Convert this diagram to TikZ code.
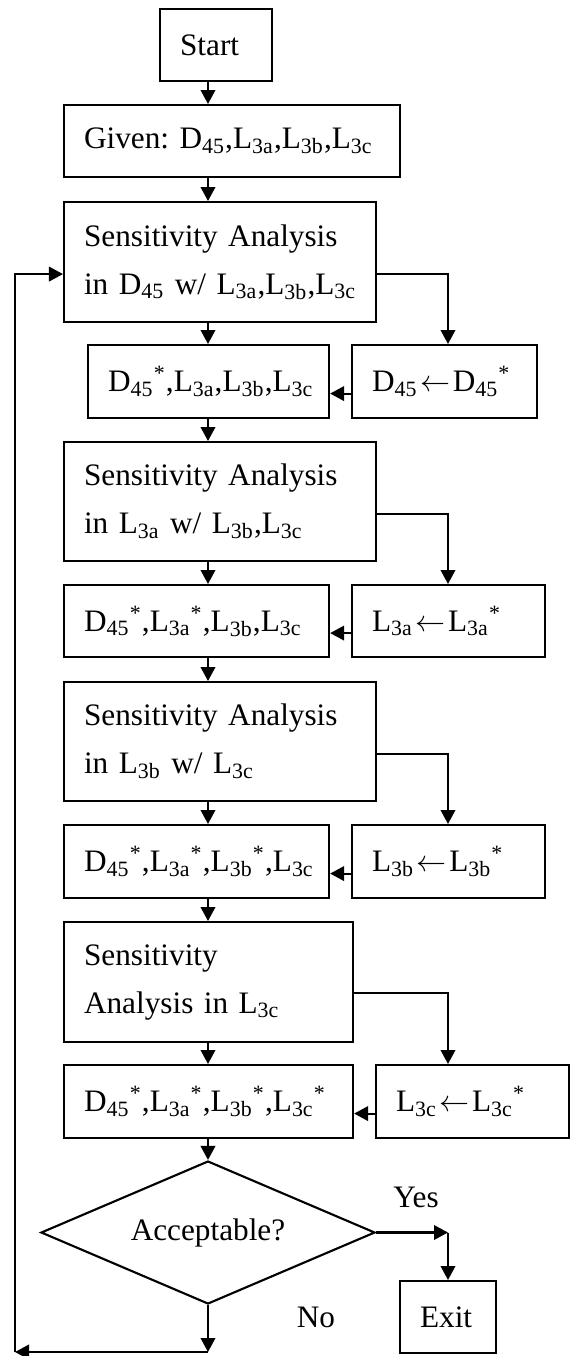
\documentclass[tikz,border=0pt]{standalone}
\usepackage{fontspec}
\setmainfont{Liberation Serif}
\frenchspacing
\usetikzlibrary{arrows.meta, shapes.geometric}
\tikzset{
    blk/.style={draw, rectangle, anchor=north west, align=left, inner xsep=8pt, inner ysep=0pt},
    txt/.style={inner sep=0pt},
}
\newcommand{\Dvar}{D\textsubscript{45}}
\newcommand{\Lvara}{L\textsubscript{3a}}
\newcommand{\Lvarb}{L\textsubscript{3b}}
\newcommand{\Lvarc}{L\textsubscript{3c}}
\newcommand{\opt}{\textsuperscript{*}}
\newcommand{\larr}{\kern1pt$\leftarrow$\kern1pt}
\begin{document}
\begin{tikzpicture}[x=0.4pt, y=-0.4pt, line width=0.85pt, >={Triangle[length=5.6pt,width=5.8pt]}, font=\fontsize{12.5}{19.2}\selectfont]
    \useasboundingbox (0, 0) rectangle (574, 1356) ;
    \node[blk, text width=28.8pt, minimum height=28.8pt] (start) at (159, 8) {Start} ;
    \node[blk, text width=118.4pt, minimum height=28.8pt] (given) at (63, 104) {Given:~\Dvar,\Lvara,\Lvarb,\Lvarc} ;
    \node[blk, text width=108.8pt, minimum height=48pt] (sens1) at (63, 201) {Sensitivity~Analysis\\in~\Dvar{}~w/~\Lvara,\Lvarb,\Lvarc} ;
    \node[blk, text width=80.4pt, minimum height=29.2pt] (res1) at (87, 344) {\Dvar\opt,\Lvara,\Lvarb,\Lvarc} ;
    \node[blk, text width=58pt, minimum height=29.2pt] (upd1) at (351, 344) {\Dvar\larr\Dvar\opt} ;
    \node[blk, text width=108.8pt, minimum height=47.6pt] (sens2) at (63, 441) {Sensitivity~Analysis\\in~\Lvara{}~w/~\Lvarb,\Lvarc} ;
    \node[blk, text width=90pt, minimum height=28.8pt] (res2) at (63, 584) {\Dvar\opt,\Lvara\opt,\Lvarb,\Lvarc} ;
    \node[blk, text width=61.2pt, minimum height=28.8pt] (upd2) at (351, 584) {\Lvara\larr\Lvara\opt} ;
    \node[blk, text width=108.8pt, minimum height=47.6pt] (sens3) at (63, 681) {Sensitivity~Analysis\\in~\Lvarb{}~w/~\Lvarc} ;
    \node[blk, text width=90pt, minimum height=29.2pt] (res3) at (63, 824) {\Dvar\opt,\Lvara\opt,\Lvarb\opt,\Lvarc} ;
    \node[blk, text width=61.2pt, minimum height=29.2pt] (upd3) at (351, 824) {\Lvarb\larr\Lvarb\opt} ;
    \node[blk, text width=99.6pt, minimum height=48pt] (sens4) at (63, 921) {Sensitivity\\Analysis~in~\Lvarc} ;
    \node[blk, text width=99.6pt, minimum height=29.2pt] (res4) at (63, 1064) {\Dvar\opt,\Lvara\opt,\Lvarb\opt,\Lvarc\opt} ;
    \node[blk, text width=61.2pt, minimum height=29.2pt] (upd4) at (375, 1064) {\Lvarc\larr\Lvarc\opt} ;
    \node[draw, diamond, aspect=2.34, minimum width=133.6pt, minimum height=57.2pt, inner sep=0pt] (check) at (208, 1232.5) {Acceptable?} ;
    \node[blk, text width=22.4pt, minimum height=28.8pt] (exit) at (399, 1280) {Exit} ;
    \node[txt] (yes) at (416, 1197) {Yes} ;
    \node[txt] (no) at (316, 1317) {No} ;
    \coordinate (col) at (208, 0) ;
    \coordinate (side) at (448, 0) ;
    \coordinate (back) at (208, 1352) ;
    \coordinate (backl) at (15, 1352) ;
    % main column
    \draw[->] (start.south -| col) -- (given.north -| col) ;
    \draw[->] (given.south -| col) -- (sens1.north -| col) ;
    \draw[->] (sens1.south -| col) -- (res1.north -| col) ;
    \draw[->] (res1.south -| col) -- (sens2.north -| col) ;
    \draw[->] (sens2.south -| col) -- (res2.north -| col) ;
    \draw[->] (res2.south -| col) -- (sens3.north -| col) ;
    \draw[->] (sens3.south -| col) -- (res3.north -| col) ;
    \draw[->] (res3.south -| col) -- (sens4.north -| col) ;
    \draw[->] (sens4.south -| col) -- (res4.north -| col) ;
    \draw[->] (res4.south -| col) -- (check.north) ;
    % update branch
    \draw[->] ([yshift=-4.8pt]sens1.east) -| (upd1.north -| side) ;
    \draw[->] ([yshift=-4.8pt]sens2.east) -| (upd2.north -| side) ;
    \draw[->] ([yshift=-4.8pt]sens3.east) -| (upd3.north -| side) ;
    \draw[->] ([yshift=-4.4pt]sens4.east) -| (upd4.north -| side) ;
    \draw[->] ([yshift=-4.8pt]upd1.west) -- ([yshift=-4.8pt]res1.east) ;
    \draw[->] ([yshift=-4.8pt]upd2.west) -- ([yshift=-4.8pt]res2.east) ;
    \draw[->] ([yshift=-4.8pt]upd3.west) -- ([yshift=-4.8pt]res3.east) ;
    \draw[->] ([yshift=-4.8pt]upd4.west) -- ([yshift=-4.8pt]res4.east) ;
    % decision
    \draw[->] (check.east) -- (check.east -| side) ;
    \draw[->] (check.east -| side) -- (exit.north -| side) ;
    \draw[->] (check.south) -- (back) ;
    \draw[->] (back) -- (backl) ;
    \draw[->] (backl) |- ([yshift=-4.8pt]sens1.west) ;
\end{tikzpicture}
\end{document}
